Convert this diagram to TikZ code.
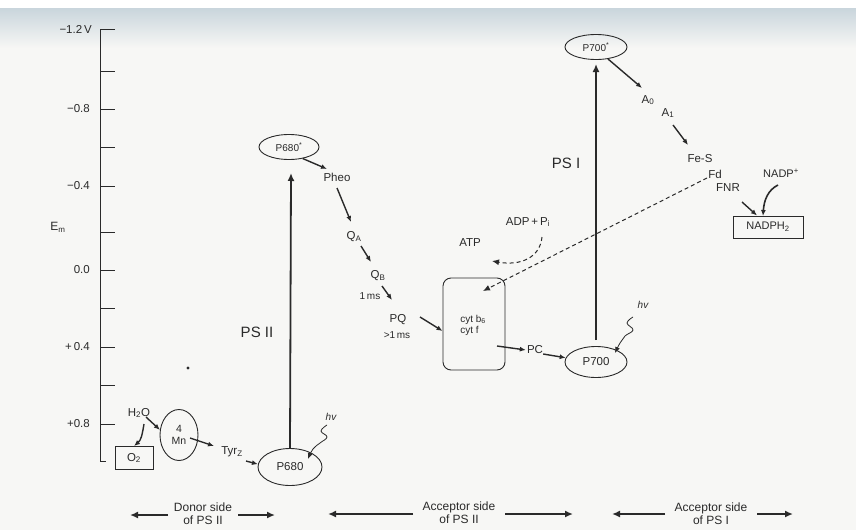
\documentclass[tikz,border=0pt]{standalone}
\usepackage{fontspec}
\setmainfont{Liberation Sans}
\usetikzlibrary{arrows.meta,shapes.geometric,calc}
\definecolor{ink}{HTML}{2A2A2A}
\definecolor{bg}{HTML}{F7F7F5}
\definecolor{band}{HTML}{C9D5DC}
\begin{document}
\begin{tikzpicture}[x=1pt,y=-1pt,
  every node/.style={text=ink,font=\fontsize{11.5}{12.5}\selectfont,inner sep=1pt},
  arr/.style={draw=ink,line width=1.4pt,-{Latex[length=6pt,width=5pt]}},
  bigarr/.style={draw=ink,line width=1.8pt,-{Latex[length=8pt,width=7pt]}},
  sidearr/.style={draw=ink,line width=1.6pt,-{Latex[length=8pt,width=7pt]}},
  dasharr/.style={draw=ink,line width=1pt,dashed,dash pattern=on 4pt off 3pt,-{Latex[length=7pt,width=6pt]}},
  oval/.style={draw=ink,line width=0.9pt,ellipse,inner sep=0pt},
  tick/.style={draw=ink,line width=1pt},
  axlab/.style={anchor=east,font=\fontsize{11.5}{12.5}\selectfont},
  sidelab/.style={align=center,font=\fontsize{12}{13}\selectfont},
  small/.style={font=\fontsize{10}{11}\selectfont}]
% background
\fill[white] (0,0) rectangle (856,530);
\fill[bg] (0,8) rectangle (856,530);
\shade[top color=band,bottom color=bg] (0,8) rectangle (856,48);
\useasboundingbox (0,0) rectangle (856,530);
% axis
\coordinate (axtop) at (100,29);
\coordinate (axbot) at (100,461);
\draw[tick] (115,29) -- (axtop) -- (axbot) -- (106,461);
\foreach \y in {71,109,147,186,232,270,308,347,385,424}{\draw[tick] (100,\y) -- (115,\y);}
\node[axlab] (l12) at (93,29) {−1.2\,V};
\node[axlab] (l08) at (91,109) {−0.8};
\node[axlab] (l04) at (91,186) {−0.4};
\node[axlab] (l00) at (91,270) {0.0};
\node[axlab] (lp04) at (91,347) {+\,0.4};
\node[axlab] (lp08) at (91,424) {+0.8};
\node[font=\fontsize{12}{13}\selectfont] (em) at (58,227) {E\textsubscript{m}};
\fill[ink] (188,368) circle (1.6pt);
% PS II donor side
\node (h2o) at (139,413) {H\textsubscript{2}O};
\node[draw=ink,line width=0.9pt,minimum width=38pt,minimum height=23pt,inner sep=0pt] (o2) at (134,458) {O\textsubscript{2}};
\node[oval,minimum width=38pt,minimum height=51pt,align=center,font=\fontsize{10.5}{11}\selectfont] (mn) at (179,435) {4\\[1pt]Mn};
\node (tyr) at (232,452) {Tyr\textsubscript{Z}};
\node[oval,minimum width=64pt,minimum height=37pt] (p680) at (290,467) {P680};
\node[oval,minimum width=60pt,minimum height=25pt,small] (p680s) at (289,147) {P680\textsuperscript{*}};
\draw[draw=ink,line width=1.4pt,-{Latex[length=6pt,width=5pt]}] (144,424) .. controls (142,436) and (141,440) .. (o2.north);
\draw[arr] (146,417) -- (mn.165);
\draw[arr] (190,438) -- (214,446);
\draw[arr] (246,461) -- (p680.175);
\draw[bigarr] (p680.north) -- (291,173);
\node[font=\fontsize{15}{16}\selectfont] (ps2) at (257,332) {PS II};
\node[font=\itshape\fontsize{10}{11}\selectfont] (hv1) at (331,417) {hv};
\draw[draw=ink,line width=0.8pt,-{Latex[length=6pt,width=5pt]}] plot[smooth,tension=0.7] coordinates {(327,425) (321,431) (327,437) (320,443) (313,449) (308,459)};
% acceptor side PS II
\node (pheo) at (337,177) {Pheo};
\node (qa) at (354,237) {Q\textsubscript{A}};
\node (qb) at (378,276) {Q\textsubscript{B}};
\node[small] (ms1) at (370,296) {1\,ms};
\node (pq) at (398,320) {PQ};
\node[small] (ms2) at (397,335) {>1\,ms};
\draw[arr] (p680s.-40) -- (327,169);
\draw[arr] (337,188) -- (351,222);
\draw[arr] (361,246) -- (371,262);
\draw[arr] (382,286) -- (392,300);
\node[draw=ink,line width=0.9pt,rounded corners=8pt,minimum width=62pt,minimum height=92pt] (cyt) at (474,324) {};
\node[small,align=left] (cyttxt) at (473,325) {cyt b\textsubscript{6}\\cyt f};
\draw[arr] (420,317) -- (cyt.west |- 0,331);
\node (pc) at (535,350) {PC};
\draw[arr] (497,346) -- (pc.west);
\node[oval,minimum width=62pt,minimum height=31pt] (p700) at (596,362) {P700};
\draw[arr] (pc.east) ++(-1,4) -- (p700.172);
% PS I
\node[oval,minimum width=62pt,minimum height=25pt,small] (p700s) at (596,47) {P700\textsuperscript{*}};
\draw[bigarr] (596,340) -- (596,64);
\node[font=\fontsize{15}{16}\selectfont] (ps1) at (566,163) {PS I};
\node[font=\itshape\fontsize{10}{11}\selectfont] (hv2) at (643,305) {hv};
\draw[draw=ink,line width=0.8pt,-{Latex[length=6pt,width=5pt]}] plot[smooth,tension=0.7] coordinates {(633,317) (627,323) (633,330) (625,336) (620,343) (615,353)};
\node (a0) at (648,100) {A\textsubscript{0}};
\node (a1) at (668,113) {A\textsubscript{1}};
\node (fes) at (700,159) {Fe-S};
\node (fd) at (715,174) {Fd};
\node (fnr) at (728,188) {FNR};
\node[font=\fontsize{11}{12}\selectfont] (nadp) at (781,173) {NADP\textsuperscript{+}};
\node[draw=ink,line width=1pt,minimum width=70pt,minimum height=22pt,font=\fontsize{11}{12}\selectfont] (nadph) at (768,227) {NADPH\textsubscript{2}};
\draw[arr] (p700s.-45) -- (642,88);
\draw[arr] (673,125) -- (688,145);
\draw[arr] (742,202) -- (nadph.north -| 757,0);
\draw[draw=ink,line width=1.6pt,-{Latex[length=6pt,width=5pt]}] (778,185) .. controls (768,190) and (764,200) .. (763,216);
% cyclic / ATP
\node (adp) at (528,222) {ADP\,+\,P\textsubscript{i}};
\node (atp) at (470,243) {ATP};
\draw[dasharr] (707,178) -- (483,291);
\draw[dasharr] (542,237) .. controls (540,258) and (520,266) .. (492,261);
% bottom side labels
\node[sidelab] (don) at (203,514) {Donor side\\of PS II};
\node[sidelab] (acc2) at (459,513) {Acceptor side\\of PS II};
\node[sidelab] (acc1) at (711,514) {Acceptor side\\of PS I};
\draw[sidearr] (168,515) -- (130,515);
\draw[sidearr] (238,515) -- (275,515);
\draw[sidearr] (413,514) -- (328,514);
\draw[sidearr] (505,514) -- (573,514);
\draw[sidearr] (665,514) -- (612,514);
\draw[sidearr] (757,514) -- (793,514);
\end{tikzpicture}
\end{document}
